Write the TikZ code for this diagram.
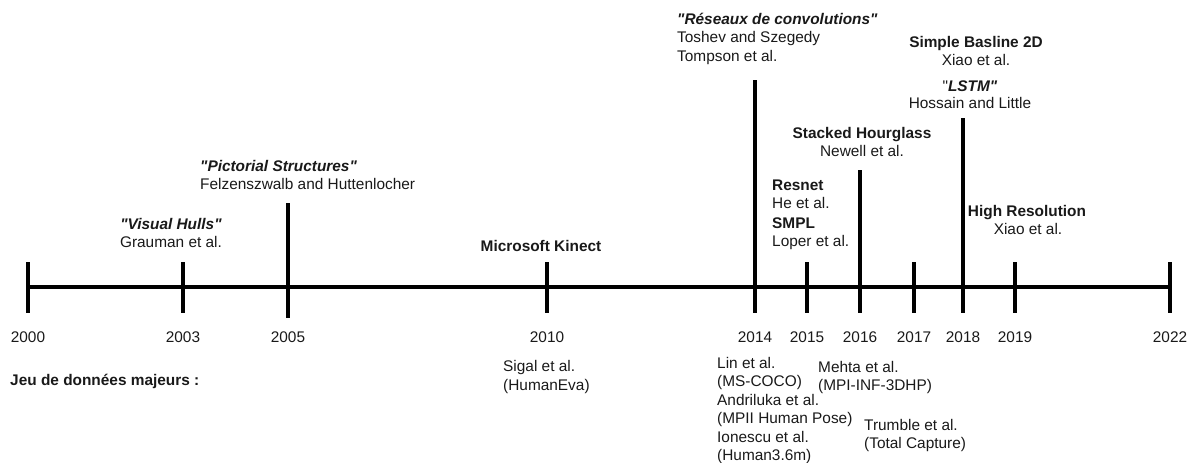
\documentclass[tikz,border=0pt]{standalone}
\usepackage{fontspec}
\setmainfont{Liberation Sans}[Ligatures=TeXOff]
\begin{document}
\begin{tikzpicture}[x=1pt,y=-1pt,
  lbl/.style={inner sep=0pt,font=\fontsize{15.4}{18}\selectfont,text=black!90},
  lw/.style={lbl,anchor=base west},
  lc/.style={lbl,anchor=base},
  axis/.style={line width=4.5pt},
  tick/.style={line width=4pt}]
\useasboundingbox (0,0) rectangle (1189,463);

% main time axis
\coordinate (a0) at (28,287);
\coordinate (a1) at (1170,287);
\draw[axis] (a0) -- (a1);

% ticks (year, top, bottom)
\foreach \x/\t/\b/\yr in {28/262/313/2000, 183/262/313/2003, 288/203/318/2005,
    547/262/313/2010, 755/80/313/2014, 807/262/313/2015, 860/170/313/2016,
    914/262/313/2017, 963/118/313/2018, 1015/262/313/2019, 1170/262/313/2022}{
  \coordinate (t\yr) at (\x,\t);
  \coordinate (b\yr) at (\x,\b);
  \draw[tick] (t\yr) -- (b\yr);
  \node[lc] (y\yr) at (\x,342.5) {\yr};
}

% methods above the axis
\node[lc] (vh1) at (171,229.5) {\textbf{\textit{"Visual Hulls"}}};
\node[lc] (vh2) at (171,247.5) {Grauman et al.};

\node[lw] (ps1) at (200,171.5) {\textbf{\textit{"Pictorial Structures"}}};
\node[lw] (ps2) at (200,189.5) {Felzenszwalb and Huttenlocher};

\node[lc] (mk) at (541,251.5) {\textbf{Microsoft Kinect}};

\node[lw] (rc1) at (677,24.5) {\textbf{\textit{"Réseaux de convolutions"}}};
\node[lw] (rc2) at (677,42.5) {Toshev and Szegedy};
\node[lw] (rc3) at (677,61) {Tompson et al.};

\node[lc] (sh1) at (862,138.5) {\textbf{Stacked Hourglass}};
\node[lc] (sh2) at (862,156) {Newell et al.};

\node[lw] (rn1) at (772,190.5) {\textbf{Resnet}};
\node[lw] (rn2) at (772,208.5) {He et al.};
\node[lw] (sm1) at (772,228) {\textbf{SMPL}};
\node[lw] (sm2) at (772,246.5) {Loper et al.};

\node[lc] (sb1) at (976,47.5) {\textbf{Simple Basline 2D}};
\node[lc] (sb2) at (976,65.5) {Xiao et al.};
\node[lc] (ls1) at (970,91) {"\textbf{\textit{LSTM"}}};
\node[lc] (ls2) at (970,108.5) {Hossain and Little};

\node[lc] (hr1) at (1027,216.5) {\textbf{High Resolution}};
\node[lc] (hr2) at (1028,234.5) {Xiao et al.};

% datasets below the axis
\node[lw] (jd) at (10,385.5) {\textbf{Jeu de données majeurs :}};

\node[lw] (d1a) at (503,371.5) {Sigal et al.};
\node[lw] (d1b) at (503,390) {(HumanEva)};

\node[lw] (d2a) at (717,368) {Lin et al.};
\node[lw] (d2b) at (717,386.5) {(MS-COCO)};
\node[lw] (d3a) at (717,405) {Andriluka et al.};
\node[lw] (d3b) at (717,423.5) {(MPII Human Pose)};
\node[lw] (d4a) at (717,442.5) {Ionescu et al.};
\node[lw] (d4b) at (717,460.5) {(Human3.6m)};

\node[lw] (d5a) at (818,372) {Mehta et al.};
\node[lw] (d5b) at (818,390.5) {(MPI-INF-3DHP)};

\node[lw] (d6a) at (864,430) {Trumble et al.};
\node[lw] (d6b) at (864,448.5) {(Total Capture)};
\end{tikzpicture}
\end{document}
